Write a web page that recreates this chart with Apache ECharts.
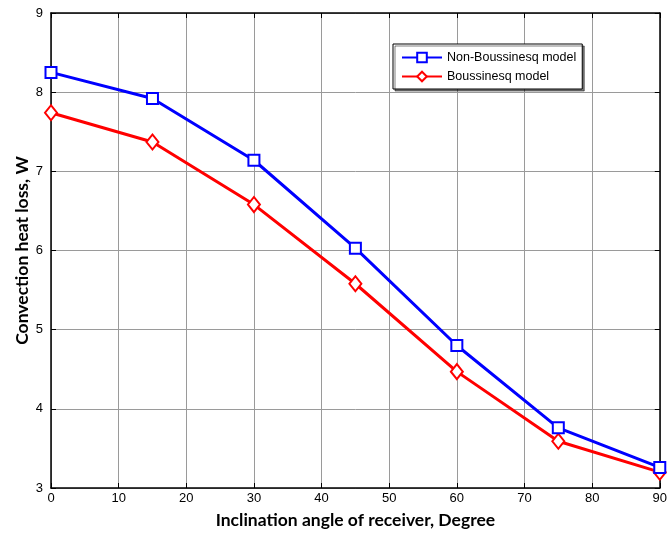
<!DOCTYPE html>
<html>
<head>
<meta charset="utf-8">
<script src="https://cdn.jsdelivr.net/npm/echarts@6/dist/echarts.min.js"></script>
<style>
html, body { margin: 0; padding: 0; background: #fff; }
#chart { width: 670px; height: 539px; }
</style>
</head>
<body>
<div id="chart"></div>
<script>
const angles = [0, 15, 30, 45, 60, 75, 90]
const nonBoussinesq = [8.25, 7.92, 7.14, 6.03, 4.80, 3.76, 3.26]
const boussinesq = [7.74, 7.37, 6.58, 5.58, 4.47, 3.59, 3.20]

const chart = echarts.init(document.getElementById('chart'))
const font = 'Liberation Sans, Arial, sans-serif'
const titleFont = 'Lato, Open Sans, sans-serif'
const gridLine = { show: true, lineStyle: { color: '#9a9a9a', width: 1 } }
const tick = { show: true, inside: true, length: 5, lineStyle: { color: '#000' } }
const axisLine = { show: true, onZero: false, lineStyle: { color: '#000', width: 1.5 } }

const options = {
    backgroundColor: '#fff',
    animation: false,
    textStyle: { fontFamily: font },
    grid: { left: 51, right: 7, top: 13, bottom: 51 },
    legend: {
        orient: 'vertical',
        left: 393,
        top: 44,
        itemWidth: 40,
        itemHeight: 12,
        itemGap: 6,
        padding: [7, 6, 6, 8],
        width: 190,
        backgroundColor: '#fff',
        borderColor: '#000',
        borderWidth: 1,
        shadowColor: 'rgba(0,0,0,0.5)',
        shadowOffsetX: 2,
        shadowOffsetY: 2,
        textStyle: { fontFamily: font, fontSize: 12.5, color: '#000', width: 138 },
        data: ['Non-Boussinesq model', 'Boussinesq model']
    },
    xAxis: [{
        type: 'value',
        min: 0,
        max: 90,
        interval: 10,
        name: 'Inclination angle of receiver, Degree',
        nameLocation: 'middle',
        nameGap: 23,
        nameTextStyle: { fontFamily: titleFont, fontSize: 17.5, fontWeight: 'bold', color: '#000' },
        axisLine: axisLine,
        axisTick: tick,
        axisLabel: { color: '#000', fontSize: 13, margin: 4 },
        splitLine: gridLine
    }, {
        type: 'value',
        position: 'top',
        min: 0,
        max: 90,
        interval: 10,
        axisLine: axisLine,
        axisTick: tick,
        axisLabel: { show: false },
        splitLine: { show: false }
    }],
    yAxis: [{
        type: 'value',
        min: 3,
        max: 9,
        interval: 1,
        name: 'Convection heat loss, W',
        nameLocation: 'middle',
        nameGap: 20,
        nameMoveOverlap: false,
        nameTextStyle: { fontFamily: titleFont, fontSize: 17.5, fontWeight: 'bold', color: '#000' },
        axisLine: axisLine,
        axisTick: tick,
        axisLabel: { color: '#000', fontSize: 13, margin: 8 },
        splitLine: gridLine
    }, {
        type: 'value',
        position: 'right',
        min: 3,
        max: 9,
        interval: 1,
        axisLine: axisLine,
        axisTick: tick,
        axisLabel: { show: false },
        splitLine: { show: false }
    }],
    series: [{
        name: 'Non-Boussinesq model',
        type: 'line',
        data: angles.map((a, i) => [a, nonBoussinesq[i]]),
        symbol: 'rect',
        symbolSize: 11,
        color: '#0000ff',
        lineStyle: { color: '#0000ff', width: 3 },
        itemStyle: { color: '#fff', borderColor: '#0000ff', borderWidth: 2 },
        z: 3
    }, {
        name: 'Boussinesq model',
        type: 'line',
        data: angles.map((a, i) => [a, boussinesq[i]]),
        symbol: 'diamond',
        symbolSize: [12, 15],
        color: '#ff0000',
        lineStyle: { color: '#ff0000', width: 3 },
        itemStyle: { color: '#fff', borderColor: '#ff0000', borderWidth: 2 },
        z: 2
    }]
}
chart.setOption(options)
</script>
</body>
</html>
